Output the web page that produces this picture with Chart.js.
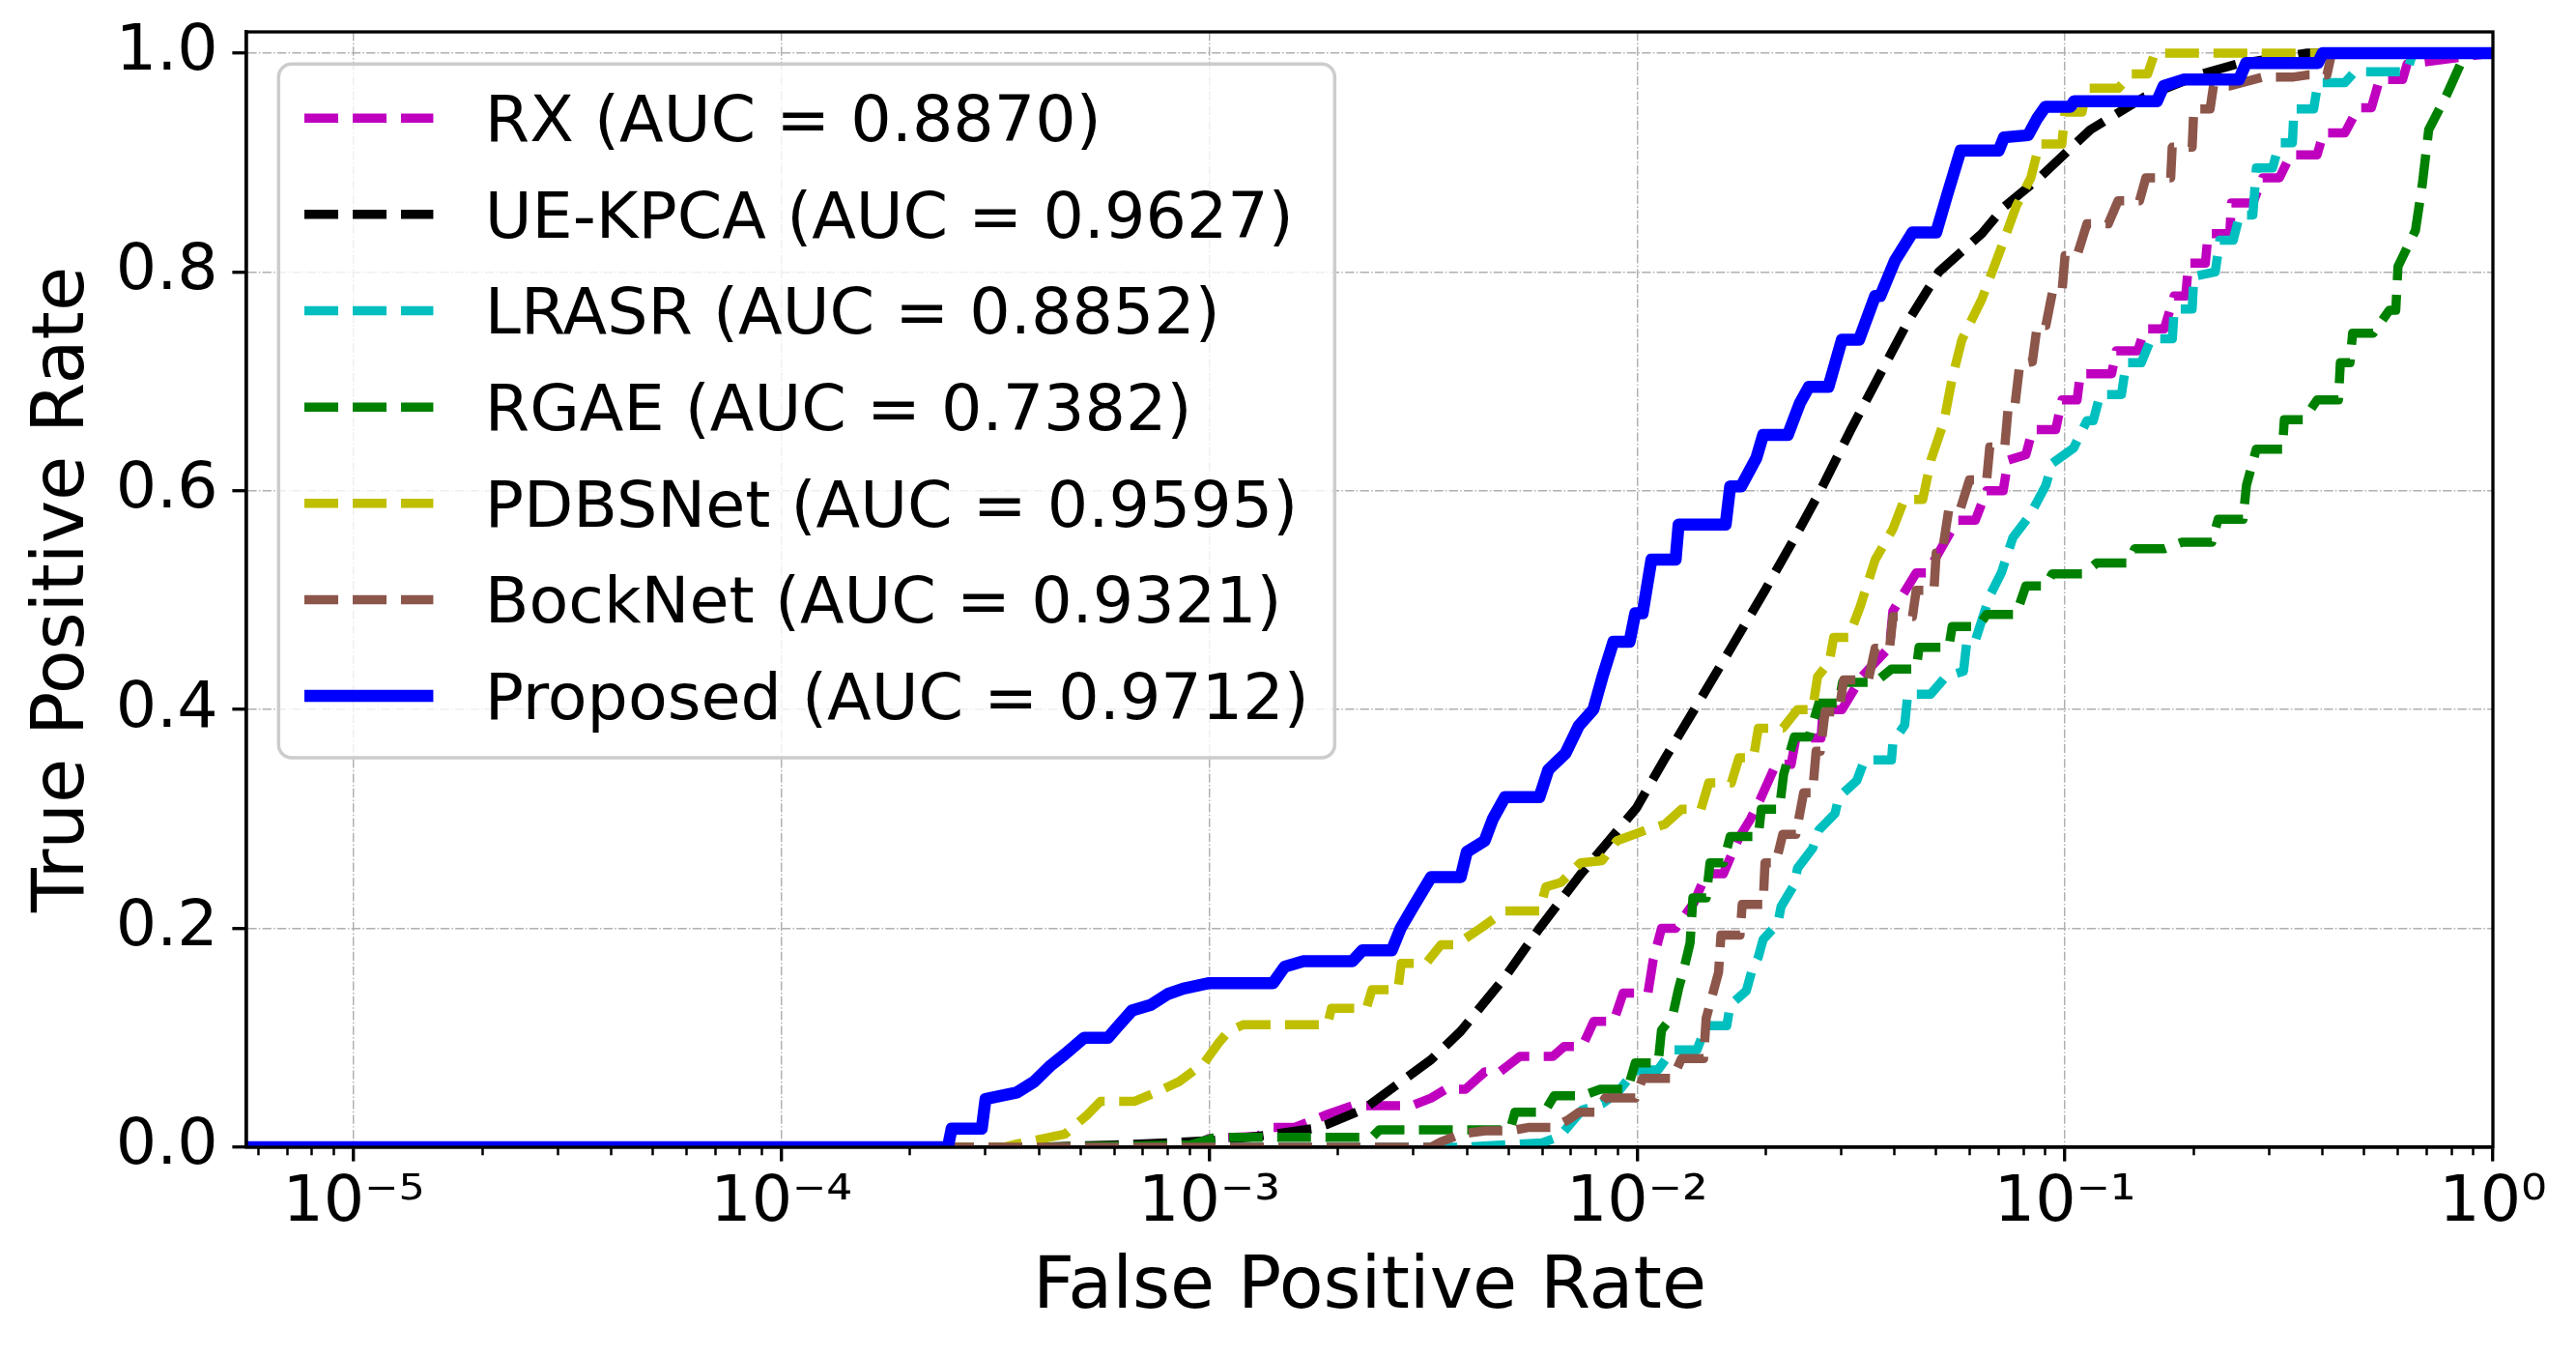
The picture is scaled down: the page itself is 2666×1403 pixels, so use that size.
<!DOCTYPE html>
<html>
<head>
<meta charset="utf-8">
<script src="https://cdn.jsdelivr.net/npm/chart.js@4.4.1/dist/chart.umd.min.js"></script>
<style>
  html, body { margin: 0; padding: 0; background: #fff; }
  canvas { display: block; }
</style>
</head>
<body>
<canvas id="roc" width="2666" height="1403" style="width:2666px;height:1403px"></canvas>
<script>
// legend names, AUC text and colours, in plotting order
const methodNames = ['RX', 'UE-KPCA', 'LRASR', 'RGAE', 'PDBSNet', 'BockNet', 'Proposed'];
const aucValues = ['0.8870', '0.9627', '0.8852', '0.7382', '0.9595', '0.9321', '0.9712'];
const lineColors = ['#bf00bf', '#000000', '#00bfbf', '#008000', '#bfbf00', '#8c564b', '#0000ff'];

// axis ticks
const xMajorTicks = [1e-5, 1e-4, 1e-3, 1e-2, 1e-1, 1];
const xTickLabels = ['10⁻⁵', '10⁻⁴', '10⁻³', '10⁻²', '10⁻¹', '10⁰'];
const minorDecades = [1e-6, 1e-5, 1e-4, 1e-3, 1e-2, 1e-1];
const minorSteps = [2, 3, 4, 5, 6, 7, 8, 9];
const yTicks = [0, 0.2, 0.4, 0.6, 0.8, 1.0];

// ROC curves: [FPR, TPR]
const rxRoc = [[1e-6,0],[9.0e-4,0],[1.0e-3,0.008],[1.3e-3,0.01],[1.39e-3,0.018],[1.58e-3,0.018],[1.89e-3,0.03],[2.16e-3,0.038],[2.97e-3,0.038],[3.3e-3,0.045],[3.57e-3,0.053],[3.97e-3,0.053],[4.41e-3,0.069],[4.78e-3,0.069],[5.32e-3,0.083],[6.35e-3,0.083],[6.75e-3,0.092],[7.44e-3,0.092],[7.92e-3,0.115],[8.81e-3,0.115],[9.28e-3,0.141],[0.0106,0.141],[0.0109,0.171],[0.0114,0.2],[0.0123,0.2],[0.0136,0.224],[0.0145,0.25],[0.0159,0.25],[0.0173,0.283],[0.0184,0.3],[0.0194,0.318],[0.0211,0.35],[0.0229,0.35],[0.0235,0.374],[0.0269,0.374],[0.0272,0.4],[0.0301,0.4],[0.0335,0.43],[0.0389,0.457],[0.0396,0.49],[0.0449,0.525],[0.0476,0.525],[0.056,0.573],[0.0617,0.573],[0.0656,0.6],[0.0717,0.6],[0.0736,0.628],[0.081,0.633],[0.084,0.656],[0.0951,0.656],[0.0984,0.683],[0.1067,0.683],[0.1086,0.707],[0.1285,0.707],[0.1318,0.728],[0.1479,0.728],[0.1535,0.748],[0.1706,0.748],[0.1799,0.778],[0.1914,0.778],[0.1945,0.808],[0.2128,0.808],[0.216,0.835],[0.2427,0.835],[0.2449,0.863],[0.2748,0.863],[0.2897,0.886],[0.317,0.886],[0.3365,0.907],[0.3882,0.907],[0.4018,0.927],[0.4508,0.927],[0.4842,0.95],[0.52,0.95],[0.5433,0.976],[0.6152,0.976],[0.63,0.99],[1,1]];

const kpcaRoc = [[1e-6,0],[4.0e-4,0],[6.0e-4,0.002],[8.0e-4,0.004],[1.0e-3,0.006],[1.3e-3,0.01],[1.75e-3,0.017],[1.89e-3,0.021],[2.3e-3,0.035],[2.81e-3,0.06],[3.3e-3,0.08],[3.87e-3,0.106],[4.9e-3,0.155],[5.91e-3,0.2],[7.4e-3,0.25],[0.00996,0.31],[0.0116,0.355],[0.0136,0.4],[0.0165,0.455],[0.0199,0.509],[0.0232,0.555],[0.0268,0.6],[0.0315,0.655],[0.0369,0.706],[0.043,0.755],[0.0507,0.8],[0.0639,0.835],[0.0723,0.86],[0.0871,0.886],[0.1146,0.93],[0.1534,0.96],[0.209,0.981],[0.252,0.99],[0.368,1],[1,1]];

const lrasrRoc = [[1e-6,0],[3.9e-3,0],[6.0e-3,0.004],[6.6e-3,0.01],[7.0e-3,0.022],[7.44e-3,0.034],[8.3e-3,0.04],[9.0e-3,0.05],[9.88e-3,0.07],[0.0112,0.071],[0.0121,0.089],[0.0138,0.089],[0.0145,0.111],[0.0162,0.111],[0.0165,0.13],[0.018,0.143],[0.0185,0.16],[0.0192,0.174],[0.0197,0.19],[0.0213,0.204],[0.0217,0.22],[0.0233,0.24],[0.0237,0.255],[0.0257,0.273],[0.0266,0.29],[0.029,0.305],[0.0296,0.32],[0.0326,0.335],[0.034,0.354],[0.0393,0.354],[0.0396,0.37],[0.0422,0.386],[0.0429,0.414],[0.0485,0.414],[0.0526,0.43],[0.0579,0.435],[0.059,0.463],[0.0617,0.463],[0.0667,0.504],[0.071,0.525],[0.0755,0.557],[0.0826,0.577],[0.0902,0.605],[0.0933,0.625],[0.1047,0.639],[0.1125,0.664],[0.1164,0.664],[0.1208,0.688],[0.1355,0.688],[0.139,0.717],[0.1507,0.717],[0.1589,0.739],[0.1782,0.739],[0.1799,0.766],[0.1982,0.766],[0.2,0.796],[0.2244,0.8],[0.23,0.829],[0.2472,0.829],[0.2559,0.852],[0.2748,0.852],[0.28,0.895],[0.3055,0.895],[0.317,0.918],[0.34,0.918],[0.3428,0.949],[0.3811,0.949],[0.39,0.973],[0.4508,0.973],[0.4753,0.983],[0.63,0.983],[0.65,1],[1,1]];

const rgaeRoc = [[1e-6,0],[4.0e-4,0],[9.0e-4,0.002],[1.03e-3,0.009],[2.4e-3,0.009],[2.5e-3,0.016],[5.05e-3,0.016],[5.18e-3,0.032],[6.07e-3,0.032],[6.4e-3,0.047],[7.44e-3,0.047],[8.2e-3,0.053],[9.5e-3,0.053],[9.9e-3,0.077],[0.0112,0.077],[0.0114,0.107],[0.0121,0.12],[0.0125,0.145],[0.0129,0.165],[0.0133,0.187],[0.0135,0.228],[0.0145,0.228],[0.0148,0.26],[0.0159,0.26],[0.0165,0.284],[0.0192,0.284],[0.0195,0.309],[0.0215,0.309],[0.022,0.341],[0.0233,0.375],[0.0252,0.375],[0.0266,0.406],[0.0296,0.406],[0.0302,0.425],[0.036,0.425],[0.0393,0.437],[0.0449,0.437],[0.0456,0.457],[0.0535,0.457],[0.0545,0.476],[0.0628,0.476],[0.0656,0.487],[0.0769,0.487],[0.081,0.513],[0.0902,0.513],[0.0933,0.524],[0.1104,0.524],[0.1186,0.534],[0.1403,0.534],[0.1455,0.547],[0.1706,0.547],[0.1879,0.553],[0.2203,0.553],[0.228,0.574],[0.2606,0.574],[0.2655,0.605],[0.2799,0.638],[0.3221,0.638],[0.3255,0.665],[0.3614,0.665],[0.3882,0.683],[0.4355,0.683],[0.44,0.717],[0.4634,0.717],[0.47,0.744],[0.5248,0.744],[0.5728,0.765],[0.5929,0.765],[0.6,0.805],[0.6592,0.838],[0.6839,0.88],[0.7079,0.93],[0.78,0.962],[0.84,0.99],[0.88,1],[1,1]];

const pdbsRoc = [[1e-6,0],[3.3e-4,0],[3.55e-4,0.003],[4.6e-4,0.012],[5.2e-4,0.03],[5.57e-4,0.042],[6.7e-4,0.042],[7.5e-4,0.05],[8.5e-4,0.06],[9.73e-4,0.077],[1.05e-3,0.095],[1.11e-3,0.106],[1.2e-3,0.112],[1.89e-3,0.112],[1.93e-3,0.127],[2.33e-3,0.127],[2.4e-3,0.144],[2.76e-3,0.144],[2.81e-3,0.168],[3.21e-3,0.168],[3.48e-3,0.185],[3.77e-3,0.185],[4.3e-3,0.2],[4.91e-3,0.216],[5.91e-3,0.216],[6.12e-3,0.238],[6.64e-3,0.242],[7.38e-3,0.26],[8.28e-3,0.262],[8.96e-3,0.28],[0.0105,0.29],[0.0116,0.295],[0.0127,0.309],[0.0141,0.309],[0.0147,0.333],[0.0166,0.333],[0.0173,0.356],[0.0187,0.356],[0.0192,0.383],[0.0219,0.383],[0.0237,0.4],[0.0257,0.4],[0.0264,0.43],[0.0281,0.443],[0.0288,0.466],[0.0312,0.466],[0.0332,0.494],[0.036,0.537],[0.0396,0.565],[0.0421,0.592],[0.0465,0.592],[0.0486,0.628],[0.0521,0.663],[0.0545,0.703],[0.0574,0.738],[0.0639,0.775],[0.0703,0.818],[0.0769,0.86],[0.0832,0.886],[0.0871,0.917],[0.0983,0.917],[0.1,0.946],[0.1096,0.946],[0.1125,0.968],[0.1333,0.968],[0.143,0.981],[0.156,0.981],[0.162,1],[1,1]];

const bockRoc = [[1e-6,0],[3.3e-3,0],[3.48e-3,0.005],[3.87e-3,0.012],[4.41e-3,0.015],[5.05e-3,0.015],[5.56e-3,0.018],[6.35e-3,0.018],[6.9e-3,0.025],[7.31e-3,0.032],[7.98e-3,0.032],[8.42e-3,0.045],[9.9e-3,0.045],[0.0103,0.063],[0.0121,0.063],[0.0127,0.081],[0.0143,0.081],[0.0145,0.118],[0.0155,0.16],[0.0157,0.194],[0.0174,0.194],[0.0176,0.222],[0.0197,0.222],[0.0199,0.26],[0.0211,0.26],[0.0219,0.286],[0.0235,0.286],[0.0245,0.324],[0.0257,0.324],[0.0262,0.362],[0.0268,0.362],[0.0275,0.398],[0.0296,0.398],[0.0304,0.427],[0.0347,0.427],[0.036,0.456],[0.0389,0.456],[0.0396,0.485],[0.044,0.485],[0.0449,0.509],[0.0494,0.509],[0.05,0.543],[0.0516,0.543],[0.0535,0.583],[0.0569,0.583],[0.0598,0.61],[0.0656,0.61],[0.0667,0.64],[0.0723,0.64],[0.0736,0.675],[0.0762,0.675],[0.0784,0.716],[0.0839,0.718],[0.0861,0.751],[0.0902,0.751],[0.0935,0.782],[0.0984,0.782],[0.1,0.815],[0.1067,0.815],[0.1125,0.844],[0.1262,0.844],[0.133,0.865],[0.1493,0.865],[0.1545,0.886],[0.1766,0.886],[0.178,0.914],[0.1982,0.914],[0.2,0.949],[0.2183,0.949],[0.2223,0.97],[0.2427,0.97],[0.2897,0.978],[0.3396,0.978],[0.3681,0.98],[0.4093,0.98],[0.42,1],[1,1]];

const proposedRoc = [[1e-6,0],[2.45e-4,0],[2.5e-4,0.017],[2.94e-4,0.017],[3.0e-4,0.044],[3.55e-4,0.05],[3.9e-4,0.06],[4.27e-4,0.075],[4.6e-4,0.085],[5.1e-4,0.1],[5.8e-4,0.1],[6.1e-4,0.11],[6.6e-4,0.125],[7.3e-4,0.13],[8.0e-4,0.14],[8.7e-4,0.145],[1.0e-3,0.15],[1.41e-3,0.15],[1.5e-3,0.165],[1.66e-3,0.17],[2.16e-3,0.17],[2.28e-3,0.18],[2.67e-3,0.18],[2.8e-3,0.2],[3.0e-3,0.22],[3.3e-3,0.247],[3.87e-3,0.247],[4.0e-3,0.27],[4.4e-3,0.28],[4.6e-3,0.3],[4.91e-3,0.32],[5.91e-3,0.32],[6.2e-3,0.345],[6.8e-3,0.36],[7.3e-3,0.385],[7.9e-3,0.4],[8.3e-3,0.43],[8.8e-3,0.462],[9.6e-3,0.462],[9.9e-3,0.488],[0.0103,0.488],[0.0108,0.537],[0.0123,0.537],[0.0125,0.569],[0.0161,0.569],[0.0165,0.604],[0.0175,0.604],[0.019,0.63],[0.0197,0.651],[0.0225,0.651],[0.024,0.68],[0.0252,0.695],[0.028,0.695],[0.0301,0.738],[0.033,0.738],[0.036,0.778],[0.037,0.778],[0.04,0.81],[0.044,0.836],[0.05,0.836],[0.053,0.87],[0.057,0.911],[0.07,0.911],[0.072,0.923],[0.082,0.925],[0.086,0.94],[0.09,0.951],[0.103,0.951],[0.105,0.956],[0.164,0.956],[0.17,0.97],[0.19,0.976],[0.255,0.976],[0.265,0.991],[0.39,0.991],[0.4,1],[1,1]];

const curves = [rxRoc, kpcaRoc, lrasrRoc, rgaeRoc, pdbsRoc, bockRoc, proposedRoc];

const FS = 66.7;      // tick + legend font
const LABEL_FS = 75;  // axis titles
const DASH = [35, 15];
const GRID_DASH = [9.3, 2.3, 1.45, 2.3];
const X_MIN = 5.62e-6;

Chart.defaults.font.family = "'DejaVu Sans', sans-serif";
Chart.defaults.color = '#000';

const minorTicks = [];
minorDecades.forEach(d => minorSteps.forEach(s => {
  if (d * s >= X_MIN && d * s < 1) minorTicks.push(d * s);
}));

const datasets = curves.map((c, i) => {
  const solid = methodNames[i] === 'Proposed';
  return {
    label: methodNames[i] + ' (AUC = ' + aucValues[i] + ')',
    data: c.map(p => ({ x: p[0], y: p[1] })),
    xAxisID: 'x',
    yAxisID: 'y',
    borderColor: lineColors[i],
    backgroundColor: lineColors[i],
    borderWidth: solid ? 12.5 : 9.5,
    borderDash: solid ? [] : DASH,
    borderCapStyle: solid ? 'round' : 'butt',
    borderJoinStyle: 'round',
    pointRadius: 0,
    pointHoverRadius: 0,
    fill: false,
    tension: 0,
    clip: 0,
    order: curves.length - 1 - i   // later methods drawn on top
  };
});

// keep the label overhang from pushing the plot area around
function noPadding(axis) {
  axis.paddingTop = 0;
  axis.paddingBottom = 0;
  axis.paddingLeft = 0;
  axis.paddingRight = 0;
}

// spines on all four sides, drawn over the curves
const framePlugin = {
  id: 'frame',
  afterDraw(chart) {
    const { ctx, chartArea: a } = chart;
    ctx.save();
    ctx.strokeStyle = '#000';
    ctx.lineWidth = 3.3;
    ctx.strokeRect(a.left, a.top, a.right - a.left, a.bottom - a.top);
    ctx.restore();
  }
};

const legendPlugin = {
  id: 'insideLegend',
  afterDraw(chart) {
    const { ctx, chartArea: a } = chart;
    const ds = chart.data.datasets;
    const pad = 0.4 * FS, handleLen = 2 * FS, textPad = 0.8 * FS;
    const axPad = 0.5 * FS, rowH = 66.3, spacing = 0.5 * FS;
    ctx.save();
    ctx.font = FS + "px 'DejaVu Sans'";
    const textW = Math.max(...ds.map(d => ctx.measureText(d.label).width));
    const x0 = a.left + axPad, y0 = a.top + axPad;
    const w = 2 * pad + handleLen + textPad + textW;
    const h = 2 * pad + ds.length * rowH + (ds.length - 1) * spacing;
    const r = 0.2 * FS;

    ctx.beginPath();
    ctx.moveTo(x0 + r, y0);
    ctx.arcTo(x0 + w, y0, x0 + w, y0 + h, r);
    ctx.arcTo(x0 + w, y0 + h, x0, y0 + h, r);
    ctx.arcTo(x0, y0 + h, x0, y0, r);
    ctx.arcTo(x0, y0, x0 + w, y0, r);
    ctx.closePath();
    ctx.fillStyle = 'rgba(255,255,255,0.8)';
    ctx.fill();
    ctx.strokeStyle = '#cccccc';
    ctx.lineWidth = 3.5;
    ctx.stroke();

    ds.forEach((d, i) => {
      const cy = y0 + pad + i * (rowH + spacing) + rowH / 2 - 4;
      const hx = x0 + pad;
      ctx.beginPath();
      ctx.setLineDash(d.borderDash);
      ctx.lineCap = 'butt';
      ctx.strokeStyle = d.borderColor;
      ctx.lineWidth = d.borderWidth;
      ctx.moveTo(hx, cy);
      ctx.lineTo(hx + handleLen, cy);
      ctx.stroke();
      ctx.setLineDash([]);
      ctx.fillStyle = '#000';
      ctx.textAlign = 'left';
      ctx.textBaseline = 'alphabetic';
      ctx.fillText(d.label, hx + handleLen + textPad, cy + 0.36 * FS);
    });
    ctx.restore();
  }
};

new Chart(document.getElementById('roc'), {
  type: 'line',
  data: { datasets },
  options: {
    responsive: false,
    devicePixelRatio: 1,
    animation: false,
    events: [],
    layout: { padding: { top: 33, right: 86, left: 0, bottom: 0 } },
    plugins: {
      legend: { display: false },
      tooltip: { enabled: false }
    },
    scales: {
      x: {
        type: 'logarithmic',
        position: 'bottom',
        weight: 1,
        min: X_MIN,
        max: 1,
        bounds: 'data',
        afterBuildTicks: axis => { axis.ticks = xMajorTicks.map(v => ({ value: v, major: true })); },
        afterFit: axis => { axis.height = 216; noPadding(axis); },
        grid: { color: '#b0b0b0', lineWidth: 1.45, tickLength: 14.6, tickWidth: 3.3, tickColor: '#000' },
        border: { display: true, color: '#000', width: 3.3, dash: GRID_DASH },
        ticks: {
          autoSkip: false, maxRotation: 0, minRotation: 0, padding: 4,
          font: { size: FS },
          callback: (v, i) => xTickLabels[i]
        },
        title: { display: true, text: 'False Positive Rate', font: { size: LABEL_FS }, padding: { top: 0, bottom: 24 } }
      },
      xMinor: {
        type: 'logarithmic',
        axis: 'x',
        position: 'bottom',
        weight: 0,
        min: X_MIN,
        max: 1,
        bounds: 'data',
        afterBuildTicks: axis => { axis.ticks = minorTicks.map(v => ({ value: v })); },
        afterFit: axis => { axis.height = 0; noPadding(axis); },
        grid: { drawOnChartArea: false, tickLength: 8.3, tickWidth: 2.5, tickColor: '#000', color: '#000' },
        border: { display: false },
        ticks: { display: false },
        title: { display: false }
      },
      y: {
        type: 'linear',
        position: 'left',
        min: 0,
        max: 1.0194,
        bounds: 'data',
        afterBuildTicks: axis => { axis.ticks = yTicks.map(v => ({ value: v })); },
        afterFit: axis => { axis.width = 255; noPadding(axis); },
        grid: { color: '#b0b0b0', lineWidth: 1.45, tickLength: 14.6, tickWidth: 3.3, tickColor: '#000' },
        border: { display: true, color: '#000', width: 3.3, dash: GRID_DASH },
        ticks: {
          padding: 14.6,
          font: { size: FS },
          callback: v => Number(v).toFixed(1)
        },
        title: { display: true, text: 'True Positive Rate', font: { size: LABEL_FS }, padding: { top: 22, bottom: 0 } }
      }
    }
  },
  plugins: [framePlugin, legendPlugin]
});
</script>
</body>
</html>
